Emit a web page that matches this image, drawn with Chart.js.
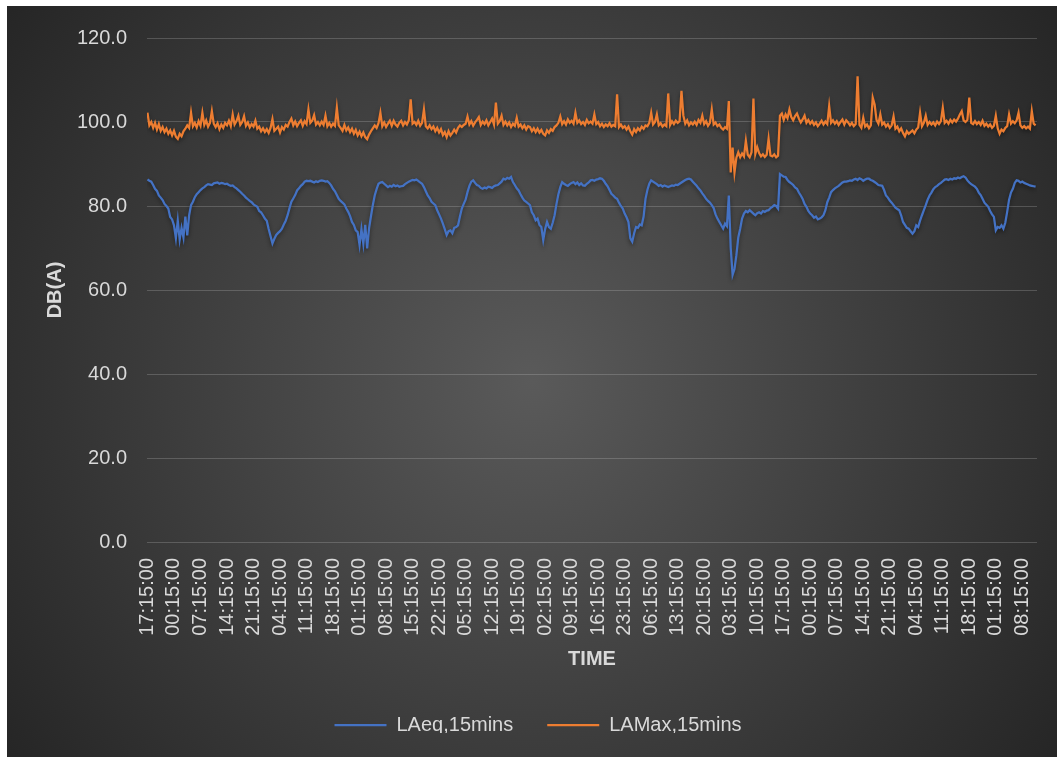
<!DOCTYPE html>
<html>
<head>
<meta charset="utf-8">
<title>LAeq / LAMax 15 mins</title>
<script src="https://cdn.jsdelivr.net/npm/chart.js@4"></script>
<style>
  html, body { margin: 0; padding: 0; background: #fff; }
  #wrap { position: absolute; left: 7px; top: 6px; width: 1050px; height: 751px; }
</style>
</head>
<body>
<div id="wrap"><canvas id="noise-chart" width="1050" height="751"></canvas></div>
<script>
/* ── dados ─────────────────────────────────────────── */

// rótulos visíveis do eixo X (um a cada 7 h = 28 intervalos de 15 min)
const tickLabels = [
  '17:15:00', '00:15:00', '07:15:00', '14:15:00', '21:15:00', '04:15:00', '11:15:00',
  '18:15:00', '01:15:00', '08:15:00', '15:15:00', '22:15:00', '05:15:00', '12:15:00',
  '19:15:00', '02:15:00', '09:15:00', '16:15:00', '23:15:00', '06:15:00', '13:15:00',
  '20:15:00', '03:15:00', '10:15:00', '17:15:00', '00:15:00', '07:15:00', '14:15:00',
  '21:15:00', '04:15:00', '11:15:00', '18:15:00', '01:15:00', '08:15:00',
];
const SLOTS_PER_TICK = 28;
const SLOT_COUNT = 940; // intervalos de 15 min no eixo
const STEP = 2;         // uma leitura a cada 30 min (2 slots de 15 min)

const seriesNames = ['LAeq,15mins', 'LAMax,15mins'];

const laeq = [
  86.3, 86.0, 85.8, 85.0, 84.1, 83.6, 82.5, 82.0, 81.4, 80.5,
  80.0, 79.4, 77.4, 76.8, 75.4, 72.3, 76.5, 72.0, 74.8, 72.5,
  77.5, 73.0, 77.8, 80.2, 81.0, 82.1, 82.8, 83.3, 83.8, 84.2,
  84.5, 84.9, 85.2, 85.1, 85.0, 85.4, 85.5, 85.6, 85.3, 85.5, 85.4,
  85.2, 85.3, 85.0, 84.8, 84.9, 84.5, 84.2, 83.8, 83.4, 82.9,
  82.5, 82.0, 81.6, 81.2, 80.9, 80.4, 80.1, 79.8, 78.8, 78.5,
  77.8, 77.0, 76.5, 74.5, 72.8, 71.1, 72.2, 73.1, 73.6, 74.0, 74.6,
  75.6, 76.5, 77.8, 79.5, 81.0, 81.8, 82.6, 83.7, 84.2, 84.8,
  85.2, 85.8, 86.0, 85.9, 86.0, 85.8, 85.6, 85.9, 85.7, 86.0,
  86.1, 86.0, 85.8, 85.9, 85.5, 84.9, 84.1, 83.5, 82.6, 81.7,
  81.2, 80.8, 80.4, 79.4, 78.6, 77.6, 76.2, 75.5, 74.2, 73.8, 70.7,
  74.5, 71.0, 75.5, 69.9, 74.6, 77.5, 80.2, 82.5, 84.0, 85.3,
  85.6, 85.7, 85.3, 84.9, 84.5, 84.8, 84.6, 85.0, 84.7, 84.9,
  84.6, 84.7, 84.8, 85.2, 85.5, 85.8, 86.0, 86.2, 86.1, 86.3, 86.0,
  85.6, 85.3, 84.5, 83.5, 82.5, 81.9, 81.0, 80.6, 80.2, 79.0,
  78.0, 77.0, 75.8, 74.5, 73.1, 74.0, 74.2, 73.5, 74.8, 75.0,
  75.4, 77.5, 79.4, 80.5, 81.5, 83.3, 84.8, 85.8, 86.1, 85.5, 85.0,
  84.8, 84.3, 84.1, 84.4, 84.2, 84.6, 84.5, 84.3, 84.7, 84.9,
  85.0, 85.4, 85.8, 86.5, 86.3, 86.7, 86.5, 86.9, 85.7, 85.0,
  84.2, 83.7, 82.8, 82.0, 81.3, 81.0, 80.6, 80.2, 78.5, 77.8, 76.6,
  77.0, 75.5, 75.0, 71.9, 74.5, 76.2, 75.0, 74.6, 76.0, 77.8,
  80.5, 82.8, 84.5, 85.7, 85.3, 85.0, 84.8, 85.2, 85.5, 85.7,
  85.2, 85.6, 85.0, 85.4, 84.9, 84.8, 85.3, 85.6, 86.1, 86.2, 86.0,
  86.3, 86.4, 86.6, 86.5, 86.0, 85.3, 84.7, 83.8, 82.9, 82.5,
  82.0, 81.7, 80.8, 80.0, 79.4, 78.2, 77.3, 76.2, 72.3, 71.5,
  73.5, 75.0, 74.8, 75.6, 75.4, 77.5, 81.7, 83.8, 85.3, 86.1,
  85.8, 85.5, 85.2, 84.8, 85.0, 84.6, 84.9, 84.7, 84.5, 84.7, 84.9,
  84.8, 85.1, 85.0, 85.3, 85.6, 85.9, 86.2, 86.4, 86.5, 86.3,
  85.8, 85.3, 84.8, 84.2, 83.7, 83.0, 82.4, 81.7, 81.2, 80.8,
  80.2, 79.5, 78.0, 77.0, 76.2, 75.4, 74.6, 75.8, 75.2, 82.5, 70.0,
  63.6, 65.0, 68.3, 72.5, 74.6, 77.0, 78.2, 78.8, 78.5, 79.0,
  78.6, 78.2, 77.8, 78.3, 78.5, 78.2, 78.8, 78.6, 78.9, 79.0,
  79.5, 79.8, 80.2, 80.0, 79.4, 87.6, 87.3, 87.0, 86.9, 86.2, 85.7,
  85.4, 85.0, 84.4, 84.1, 83.2, 82.5, 81.7, 80.5, 79.8, 78.8,
  78.2, 77.8, 77.2, 77.5, 76.8, 77.0, 77.3, 77.8, 79.0, 80.9,
  82.0, 83.3, 83.8, 84.2, 84.5, 84.8, 85.2, 85.6, 85.8, 85.8, 85.9,
  86.1, 86.0, 86.3, 86.5, 86.2, 86.6, 86.4, 86.0, 86.3, 86.5,
  86.5, 86.2, 86.0, 85.7, 85.4, 85.0, 84.9, 84.8, 83.8, 82.5,
  82.0, 81.3, 80.8, 80.2, 79.6, 79.3, 79.0, 77.8, 76.2, 75.5,
  74.8, 74.6, 74.0, 73.4, 74.0, 75.4, 75.0, 76.5, 77.8, 79.0, 80.2,
  81.5, 82.5, 83.2, 84.0, 84.5, 84.8, 85.2, 85.5, 85.9, 86.3,
  86.4, 86.2, 86.5, 86.3, 86.6, 86.5, 86.8, 86.6, 86.9, 87.1,
  86.8, 86.1, 85.6, 85.2, 84.9, 84.6, 84.1, 83.2, 82.6, 81.7, 80.8,
  80.3, 79.8, 78.8, 78.0, 77.4, 74.2, 75.0, 74.8, 75.4, 74.6,
  76.0, 78.6, 81.5, 83.2, 84.1, 85.5, 86.1, 86.0, 85.6, 85.8,
  85.5, 85.3, 85.1, 84.9, 84.8, 84.7, 84.6,
];

const lamax = [
  102.2, 99.2, 100.0, 98.6, 99.8, 98.2, 99.5, 97.9, 98.8, 97.6,
  98.4, 97.2, 98.0, 96.8, 97.9, 96.5, 96.0, 97.2, 96.6, 97.8,
  98.4, 99.2, 98.6, 102.2, 99.0, 99.8, 98.7, 100.2, 99.1, 102.2,
  99.3, 100.4, 98.9, 99.8, 102.6, 99.6, 98.8, 99.7, 98.3, 99.4, 98.6,
  99.8, 99.2, 100.3, 99.0, 101.8, 99.4, 100.2, 101.5, 99.3, 100.0,
  101.4, 99.1, 99.9, 98.7, 99.5, 98.9, 100.3, 98.4, 98.9, 97.8,
  98.5, 97.6, 98.3, 97.4, 98.6, 100.7, 97.9, 98.4, 98.9, 97.5, 98.8,
  98.2, 99.3, 98.9, 100.0, 100.8, 99.2, 100.1, 99.0, 99.8, 100.4,
  99.1, 100.2, 99.5, 103.0, 99.8, 100.3, 101.6, 99.4, 100.0, 99.2,
  100.1, 99.3, 101.5, 99.0, 99.8, 98.9, 99.6, 99.1, 103.4, 99.2,
  98.6, 97.9, 99.3, 98.0, 98.7, 97.6, 98.4, 97.2, 98.1, 96.8, 97.7,
  96.6, 97.5, 96.4, 95.9, 97.0, 97.8, 98.5, 99.2, 98.6, 99.7,
  102.2, 99.0, 99.9, 98.8, 99.6, 100.3, 99.1, 100.3, 99.4, 98.9,
  99.8, 100.3, 99.2, 100.0, 99.4, 100.4, 105.4, 99.6, 100.0, 99.3, 100.3,
  99.1, 99.8, 103.0, 99.0, 98.5, 99.2, 98.3, 98.9, 97.8, 98.6,
  97.5, 98.3, 96.9, 97.6, 96.4, 97.8, 96.8, 97.4, 98.2, 97.5,
  98.6, 99.2, 98.8, 99.3, 99.6, 101.3, 99.4, 100.2, 99.1, 99.9, 100.5,
  101.2, 99.3, 100.1, 99.5, 100.4, 99.2, 100.0, 100.8, 99.4, 104.6,
  99.6, 100.2, 101.5, 99.3, 100.1, 99.2, 99.9, 98.8, 99.6, 99.1,
  101.0, 98.9, 99.4, 98.5, 99.2, 98.2, 99.0, 98.8, 97.8, 98.5, 97.6,
  98.4, 97.5, 98.1, 97.2, 96.8, 98.0, 97.4, 98.3, 97.9, 98.8,
  99.2, 99.8, 101.3, 99.5, 100.2, 99.4, 100.6, 99.8, 100.3, 99.6,
  102.2, 99.8, 100.4, 99.5, 100.0, 99.3, 100.5, 99.7, 100.1, 99.6, 101.8,
  99.5, 100.0, 99.0, 99.6, 98.8, 99.4, 99.0, 99.7, 98.9, 99.3,
  99.0, 106.6, 98.8, 99.4, 98.6, 99.0, 98.2, 98.9, 97.8, 97.0,
  98.3, 97.6, 98.5, 98.0, 98.9, 98.4, 99.2, 99.0, 99.8, 102.2,
  99.4, 100.0, 101.8, 99.2, 99.7, 98.9, 99.4, 99.0, 106.8, 99.3, 100.2,
  99.5, 100.3, 99.8, 100.2, 107.4, 101.5, 99.6, 100.4, 99.2, 99.9,
  99.4, 100.1, 99.3, 100.5, 99.8, 101.5, 99.5, 100.2, 99.1, 99.8,
  103.0, 99.4, 99.9, 99.0, 99.4, 98.6, 98.2, 98.8, 98.4, 105.0, 88.0,
  93.9, 88.0, 91.5, 92.8, 91.6, 92.5, 91.8, 95.5, 92.2, 91.6,
  92.8, 105.6, 92.4, 94.0, 92.6, 91.8, 92.3, 91.7, 92.2, 96.0,
  92.0, 91.8, 92.3, 91.6, 92.0, 101.5, 102.0, 100.5, 101.8, 100.9, 103.0,
  101.2, 100.4, 101.4, 102.0, 100.8, 99.9, 100.6, 101.5, 99.8, 100.5,
  99.6, 100.2, 99.3, 99.9, 99.0, 99.6, 100.3, 99.4, 100.1, 99.5,
  103.8, 99.8, 100.4, 99.6, 100.2, 99.3, 100.0, 100.6, 99.4, 100.4, 99.9,
  99.2, 99.8, 99.0, 99.5, 110.9, 99.3, 98.6, 101.0, 98.9, 99.4,
  98.5, 99.2, 105.8, 104.2, 100.5, 99.6, 101.8, 99.4, 99.9, 98.9,
  99.5, 98.6, 99.2, 101.3, 98.4, 98.9, 97.8, 98.5, 97.4, 96.6,
  97.8, 97.2, 97.6, 98.0, 97.3, 98.2, 98.7, 102.2, 99.0, 99.8, 101.5,
  99.3, 100.0, 99.4, 99.9, 99.2, 100.1, 99.5, 100.2, 103.4, 99.8,
  100.3, 99.6, 100.5, 99.9, 100.6, 100.1, 100.8, 101.8, 102.6, 100.4,
  100.0, 100.5, 105.8, 99.8, 99.5, 100.2, 99.5, 100.0, 99.3, 100.3, 99.1,
  99.6, 98.9, 99.4, 98.6, 99.1, 101.5, 98.5, 97.2, 98.2, 97.8,
  98.6, 99.0, 101.8, 99.6, 100.2, 99.7, 100.4, 102.2, 99.2, 98.6,
  99.0, 98.5, 98.9, 98.4, 102.6, 99.6, 99.2,
];

const yTicks = { min: 0, max: 120, step: 20 };

/* ── estilo ─────────────────────────────────────────── */

const TEXT = '#d9d9d9';
const GRID = 'rgba(217, 217, 217, 0.22)';
const FONT = "'Liberation Sans', Arial, sans-serif";

Chart.defaults.font.family = FONT;
Chart.defaults.font.size = 20;
Chart.defaults.color = TEXT;

const toPoints = (arr) => arr.map((y, j) => ({ x: j * STEP, y }));

// fundo escuro com gradiente radial (mais claro no centro)
const darkBackground = {
  id: 'darkBackground',
  beforeDraw(chart) {
    const { ctx, width, height } = chart;
    const g = ctx.createRadialGradient(width / 2, height / 2, 0, width / 2, height / 2, 640);
    g.addColorStop(0, '#5a5a5a');
    g.addColorStop(1, '#262626');
    ctx.save();
    ctx.fillStyle = g;
    ctx.fillRect(0, 0, width, height);
    ctx.restore();
  },
};

// sombra leve por baixo das linhas
const lineShadow = {
  id: 'lineShadow',
  beforeDatasetDraw(chart) {
    const c = chart.ctx;
    c.save();
    c.shadowColor = 'rgba(0, 0, 0, 0.45)';
    c.shadowBlur = 4;
    c.shadowOffsetY = 2;
  },
  afterDatasetDraw(chart) {
    chart.ctx.restore();
  },
};

new Chart(document.getElementById('noise-chart'), {
  type: 'line',
  data: {
    datasets: [
      {
        label: seriesNames[0],
        data: toPoints(laeq),
        borderColor: '#4472c4',
        backgroundColor: '#4472c4',
        borderWidth: 2.25,
      },
      {
        label: seriesNames[1],
        data: toPoints(lamax),
        borderColor: '#ed7d31',
        backgroundColor: '#ed7d31',
        borderWidth: 2.25,
      },
    ],
  },
  options: {
    responsive: false,
    animation: false,
    parsing: false,
    elements: { point: { radius: 0 }, line: { tension: 0 } },
    layout: { padding: { left: 32, right: 20, top: 28, bottom: 24 } },
    plugins: {
      tooltip: { enabled: false },
      legend: {
        position: 'bottom',
        maxHeight: 52,
        labels: {
          color: TEXT,
          font: { size: 20 },
          usePointStyle: true,
          pointStyle: 'line',
          pointStyleWidth: 52,
          padding: 34,
        },
      },
    },
    scales: {
      x: {
        type: 'linear',
        // categorias centradas, como no Excel: meia categoria de folga em cada ponta
        min: -0.5,
        max: SLOT_COUNT - 0.5,
        grid: { display: false, drawTicks: false },
        border: { display: false },
        afterBuildTicks: (scale) => {
          scale.ticks = tickLabels.map((_, k) => ({ value: k * SLOTS_PER_TICK }));
        },
        afterFit: (scale) => {
          scale.height = 139;
          // os rótulos girados cabem na margem; não encolher a área do gráfico
          scale.paddingLeft = 0;
          scale.paddingRight = 0;
        },
        ticks: {
          autoSkip: false,
          maxRotation: 90,
          minRotation: 90,
          padding: 16,
          color: TEXT,
          callback: (v) => tickLabels[Math.round(v / SLOTS_PER_TICK)] ?? '',
        },
        title: {
          display: true,
          text: 'TIME',
          color: TEXT,
          font: { size: 20, weight: 'bold' },
          padding: { top: 0, bottom: 10 },
        },
      },
      y: {
        min: yTicks.min,
        max: yTicks.max,
        grid: { color: GRID, lineWidth: 1, drawTicks: false },
        border: { display: false },
        afterFit: (scale) => { scale.width = 108; },
        ticks: {
          stepSize: yTicks.step,
          padding: 20,
          color: TEXT,
          callback: (v) => v.toFixed(1),
        },
        title: {
          display: true,
          text: 'DB(A)',
          color: TEXT,
          font: { size: 20, weight: 'bold' },
          padding: { top: 4, bottom: 0 },
        },
      },
    },
  },
  plugins: [darkBackground, lineShadow],
});
</script>
</body>
</html>
